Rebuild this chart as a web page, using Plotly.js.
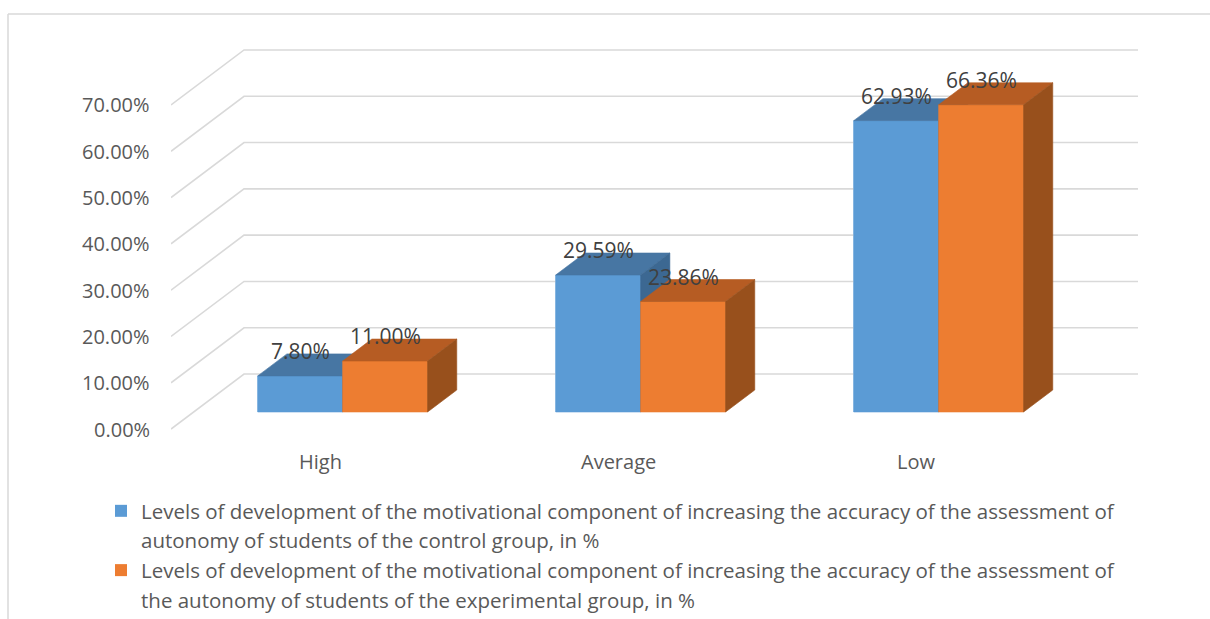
<!DOCTYPE html>
<html>
<head>
<meta charset="utf-8">
<script src="https://cdn.plot.ly/plotly-3.0.1.min.js"></script>
<style>
  html, body { margin: 0; padding: 0; background: #ffffff; }
  #chart { width: 1210px; height: 619px; }
</style>
</head>
<body>
<div id="chart"></div>
<script>
// ---- data ----
const categories = ['High', 'Average', 'Low'];
const controlValues = [7.80, 29.59, 62.93];
const experimentalValues = [11.00, 23.86, 66.36];
const tickValues = [0, 10, 20, 30, 40, 50, 60, 70];
const controlName = ['Levels of development of the motivational component of increasing the accuracy of the assessment of',
                     'autonomy of students of the control group, in %'];
const experimentalName = ['Levels of development of the motivational component of increasing the accuracy of the assessment of',
                          'the autonomy of students of the experimental group, in %'];

// ---- 3D look ----
const FONT = '"Open Sans", Lato, sans-serif';
const BAR_W = 0.285;        // bar width in category units
const DEPTH_X = 0.245;      // horizontal shift of the full floor depth (category units)
const DEPTH_Y = 11.88;      // vertical shift of the full floor depth (value units)
const BAR_FRONT = 0.31;     // depth of bar front faces (0 = front edge, 1 = back wall)
const BAR_BACK = 0.71;      // depth of bar back faces
const CAT_MIN = -0.5, CAT_MAX = categories.length - 0.5;

const series = [
  {values: controlValues, offset: -BAR_W, front: '#5B9BD5', top: '#4776A3', side: '#3C6892', name: controlName},
  {values: experimentalValues, offset: 0, front: '#ED7D31', top: '#B65C23', side: '#98501C', name: experimentalName}
];

// oblique projection of (x, value, depth) onto the front-face plane of the bars
function project(x, y, d) {
  return [x + DEPTH_X * (d - BAR_FRONT), y + DEPTH_Y * (d - BAR_FRONT)];
}

function polygon(pts, color) {
  const pp = pts.map(p => project(p[0], p[1], p[2]));
  pp.push(pp[0]);
  return {
    type: 'scatter', mode: 'lines', fill: 'toself', fillcolor: color,
    x: pp.map(p => p[0]), y: pp.map(p => p[1]),
    line: {color: color, width: 0.6},
    hoverinfo: 'skip', showlegend: false
  };
}

const traces = [];

// front faces as bars (also provide the legend entries)
series.forEach(s => {
  traces.push({
    type: 'bar', x: categories.map((c, i) => i), y: s.values,
    width: BAR_W, offset: s.offset, marker: {color: s.front},
    name: s.name[0], showlegend: true, hoverinfo: 'skip'
  });
  // second line of the legend text
  traces.push({
    type: 'bar', x: [null], y: [null], marker: {color: 'rgba(0,0,0,0)'},
    name: s.name[1], showlegend: true, hoverinfo: 'skip'
  });
});

// walls: gridlines on the left wall and back wall
const gx = [], gy = [];
tickValues.forEach(t => {
  const a = project(CAT_MIN, t, 0), b = project(CAT_MIN, t, 1), c = project(CAT_MAX, t, 1);
  gx.push(a[0], b[0], c[0], null);
  gy.push(a[1], b[1], c[1], null);
});
traces.push({
  type: 'scatter', mode: 'lines', x: gx, y: gy,
  line: {color: '#D9D9D9', width: 1.6}, hoverinfo: 'skip', showlegend: false
});

// 3D bar faces, series drawn in order so the right bar hides the left one's side
series.forEach(s => {
  s.values.forEach((v, i) => {
    const xl = i + s.offset, xr = xl + BAR_W;
    traces.push(polygon([[xl, 0, BAR_FRONT], [xr, 0, BAR_FRONT], [xr, v, BAR_FRONT], [xl, v, BAR_FRONT]], s.front));
    traces.push(polygon([[xl, v, BAR_FRONT], [xr, v, BAR_FRONT], [xr, v, BAR_BACK], [xl, v, BAR_BACK]], s.top));
    traces.push(polygon([[xr, 0, BAR_FRONT], [xr, v, BAR_FRONT], [xr, v, BAR_BACK], [xr, 0, BAR_BACK]], s.side));
  });
});

const annotations = [];
// value axis labels on the front edge of the left wall
tickValues.forEach(t => {
  const p = project(CAT_MIN, t, 0);
  annotations.push({
    x: p[0], y: p[1], xref: 'x', yref: 'y', text: t.toFixed(2) + '%',
    showarrow: false, xanchor: 'right', yanchor: 'middle', xshift: -19,
    font: {family: FONT, size: 20, color: '#595959'}
  });
});
// category labels under the front edge of the floor
categories.forEach((c, i) => {
  const p = project(i, 0, 0);
  annotations.push({
    x: p[0], y: p[1], xref: 'x', yref: 'y', text: c,
    showarrow: false, xanchor: 'center', yanchor: 'middle', yshift: -32,
    font: {family: FONT, size: 20, color: '#595959'}
  });
});
// data labels
series.forEach(s => {
  s.values.forEach((v, i) => {
    annotations.push({
      x: i + s.offset + BAR_W / 2, y: v, xref: 'x', yref: 'y',
      text: v.toFixed(2) + '%', showarrow: false,
      xanchor: 'center', yanchor: 'middle', yshift: 25,
      font: {family: FONT, size: 21, color: '#404040'}
    });
  });
});

// plot area geometry (pixels)
const M = {l: 171, r: 72, t: 40, b: 179, autoexpand: false};
const PW = 1210 - M.l - M.r, PH = 619 - M.t - M.b;
const px = v => (v - M.l) / PW;
const py = v => (619 - M.b - v) / PH;

const layout = {
  width: 1210, height: 619,
  margin: M,
  paper_bgcolor: '#ffffff', plot_bgcolor: 'rgba(0,0,0,0)',
  barmode: 'overlay',
  showlegend: true,
  xaxis: {range: [-0.576, 2.669], visible: false, fixedrange: true},
  yaxis: {range: [-6.05, 80.35], visible: false, fixedrange: true},
  legend: {
    xref: 'container', yref: 'container', x: 101 / 1210, y: 1 - 491 / 619,
    xanchor: 'left', yanchor: 'top', orientation: 'v', traceorder: 'normal',
    font: {family: FONT, size: 20.5, color: '#595959'},
    bgcolor: 'rgba(0,0,0,0)', borderwidth: 0, tracegroupgap: 0,
    itemclick: false, itemdoubleclick: false
  },
  annotations: annotations,
  shapes: [
    {type: 'line', xref: 'paper', yref: 'paper', x0: px(8), x1: px(1212), y0: py(14), y1: py(14),
     line: {color: '#D9D9D9', width: 1.5}},
    {type: 'line', xref: 'paper', yref: 'paper', x0: px(8), x1: px(8), y0: py(14), y1: py(621),
     line: {color: '#D9D9D9', width: 1.5}}
  ]
};

Plotly.newPlot('chart', traces, layout, {displayModeBar: false, staticPlot: true});
</script>
</body>
</html>
